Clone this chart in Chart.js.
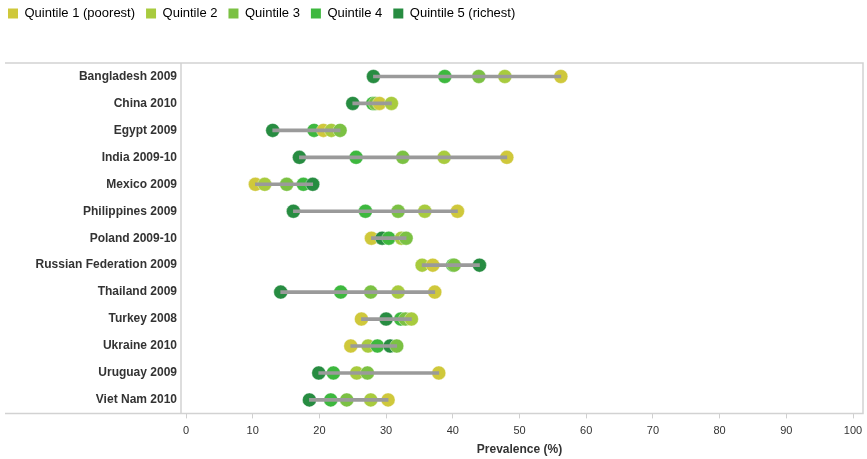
<!DOCTYPE html>
<html>
<head>
<meta charset="utf-8">
<script src="https://cdn.jsdelivr.net/npm/chart.js@4.4.1/dist/chart.umd.min.js"></script>
<style>
  html, body { margin: 0; padding: 0; background: #fff; }
  #wrap { width: 867px; height: 459px; position: relative; }
</style>
</head>
<body>
<div id="wrap"><canvas id="prevalenceChart"></canvas></div>
<script>
// Surveys (one row each), top to bottom
const countries = ['Bangladesh 2009', 'China 2010', 'Egypt 2009', 'India 2009-10', 'Mexico 2009',
    'Philippines 2009', 'Poland 2009-10', 'Russian Federation 2009', 'Thailand 2009', 'Turkey 2008',
    'Ukraine 2010', 'Uruguay 2009', 'Viet Nam 2010'];

const quintileNames = ['Quintile 1 (poorest)', 'Quintile 2', 'Quintile 3', 'Quintile 4', 'Quintile 5 (richest)'];
const quintileColors = ['#cfc83b', '#a8cb3e', '#7bc143', '#3db83e', '#278c41'];

// Prevalence (%) per quintile
const q1 = [56.2, 29.0, 20.6, 48.1, 10.4, 40.7, 27.8, 37.0, 37.3, 26.3, 24.7, 37.9, 30.3];
const q2 = [47.8, 30.8, 21.8, 38.7, 11.8, 35.8, 32.3, 35.4, 31.8, 33.8, 27.3, 25.6, 27.7];
const q3 = [43.9, 28.4, 23.1, 32.5, 15.1, 31.8, 33.0, 40.2, 27.7, 32.9, 31.6, 27.2, 24.1];
const q4 = [38.8, 28.0, 19.2, 25.5, 17.6, 26.9, 30.4, 40.0, 23.2, 32.2, 28.7, 22.1, 21.7];
const q5 = [28.1, 25.0, 13.0, 17.0, 19.0, 16.1, 29.4, 44.0, 14.2, 30.0, 30.6, 19.9, 18.5];

const quintiles = [q1, q2, q3, q4, q5];

// range line per row (min..max)
const ranges = countries.map((c, i) => {
    const vals = quintiles.map(q => q[i]);
    return [Math.min(...vals), Math.max(...vals)];
});

// dots: within a row the rightmost dot sits on top
const dots = [];
const dotColors = [];
countries.forEach((c, i) => {
    const row = quintiles.map((q, k) => ({ x: q[i], y: c, k: k }));
    row.sort((a, b) => a.x - b.x);
    row.forEach(p => {
        dots.push({ x: p.x, y: p.y });
        dotColors.push(quintileColors[p.k]);
    });
});

const font = '"Liberation Sans", Arial, sans-serif';

// light grey frame around the plot
const framePlugin = {
    id: 'frame',
    beforeDatasetsDraw(chart) {
        const { ctx, chartArea } = chart;
        const left = chartArea.left - 5;
        const right = chartArea.right + 10;
        ctx.save();
        ctx.strokeStyle = '#d2d2d2';
        ctx.lineWidth = 1.5;
        ctx.beginPath();
        ctx.moveTo(5, chartArea.top);
        ctx.lineTo(right, chartArea.top);
        ctx.lineTo(right, chartArea.bottom);
        ctx.lineTo(5, chartArea.bottom);
        ctx.moveTo(left, chartArea.top);
        ctx.lineTo(left, chartArea.bottom);
        ctx.stroke();
        ctx.restore();
    }
};

// extra room under the legend
const legendGap = {
    id: 'legendGap',
    beforeInit(chart) {
        const fit = chart.legend.fit;
        chart.legend.fit = function () {
            fit.call(this);
            this.height = 67;
        };
    }
};

new Chart(document.getElementById('prevalenceChart').getContext('2d'), {
    type: 'bar',
    data: {
        labels: countries,
        datasets: [{
            label: 'Range',
            data: ranges,
            backgroundColor: '#9a9a9a',
            borderWidth: 0,
            barThickness: 3,
            order: 0
        }, {
            type: 'scatter',
            label: 'Quintiles',
            data: dots,
            pointRadius: 7,
            pointBackgroundColor: dotColors,
            pointBorderColor: 'rgba(255,255,255,0.5)',
            pointBorderWidth: 0.8,
            order: 1
        }]
    },
    options: {
        indexAxis: 'y',
        responsive: true,
        maintainAspectRatio: false,
        animation: false,
        events: [],
        layout: { padding: { top: -4, left: -3, right: 14, bottom: 2 } },
        plugins: {
            legend: {
                position: 'top',
                align: 'start',
                labels: {
                    boxWidth: 10,
                    boxHeight: 10,
                    padding: 11,
                    color: '#222',
                    font: { family: font, size: 13 },
                    generateLabels: () => quintileNames.map((n, k) => ({
                        text: n,
                        fillStyle: quintileColors[k],
                        strokeStyle: quintileColors[k],
                        lineWidth: 0,
                        hidden: false
                    }))
                }
            },
            tooltip: { enabled: false }
        },
        scales: {
            x: {
                type: 'linear',
                min: 0,
                max: 100,
                border: { display: false },
                grid: { drawOnChartArea: false, drawTicks: true, tickLength: 5, color: '#cfcfcf' },
                ticks: {
                    stepSize: 10,
                    padding: 6,
                    color: '#333',
                    font: { family: font, size: 11 }
                },
                title: {
                    display: true,
                    text: 'Prevalence (%)',
                    color: '#333',
                    padding: { top: -1, bottom: 0 },
                    font: { family: font, size: 12, weight: 'bold' }
                },
                afterFit(scale) {
                    scale.paddingLeft = 0;
                    scale.paddingRight = 0;
                }
            },
            y: {
                type: 'category',
                offset: true,
                border: { display: false },
                grid: { display: false, drawTicks: false },
                ticks: {
                    padding: 9,
                    color: '#333',
                    font: { family: font, size: 12, weight: 'bold' }
                },
                afterFit(scale) { scale.width = 189; }
            }
        }
    },
    plugins: [framePlugin, legendGap]
});
</script>
</body>
</html>
